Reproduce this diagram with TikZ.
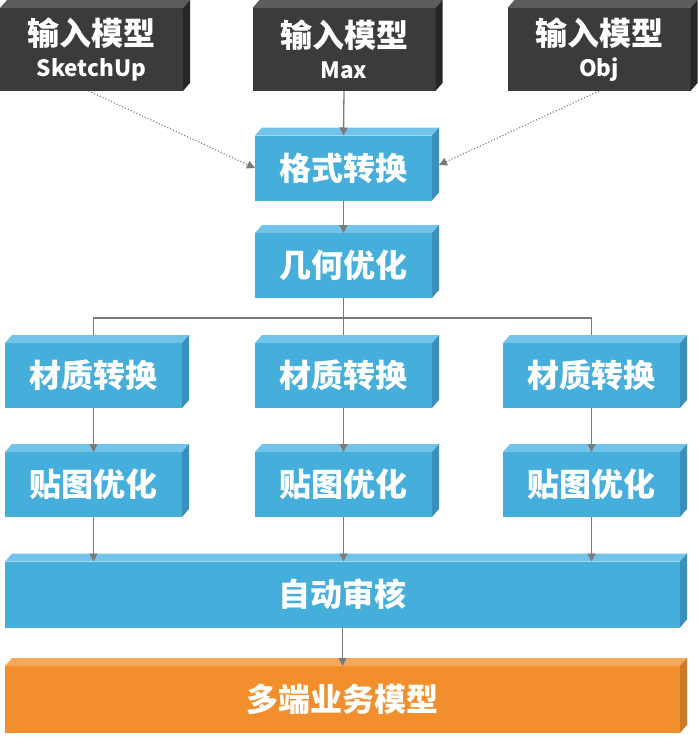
\documentclass[tikz,border=0pt]{standalone}
\usepackage{fontspec}
\newfontfamily\cjk{Noto Sans CJK SC}
\usetikzlibrary{arrows.meta,backgrounds}
\definecolor{blkF}{HTML}{3B3B3B}\definecolor{blkT}{HTML}{5C5C5C}\definecolor{blkS}{HTML}{262626}
\definecolor{bluF}{HTML}{45AEDB}\definecolor{bluT}{HTML}{72C3EA}\definecolor{bluS}{HTML}{3A8FBC}
\definecolor{oraF}{HTML}{F28F2C}\definecolor{oraT}{HTML}{F6A75C}\definecolor{oraS}{HTML}{CB7A27}
\definecolor{conn}{HTML}{7A7A7A}
\newcommand\cubefaces[2]{%
  \fill[#2T] (#1.north west) -- ++(7,-8) -- ([shift={(7pt,8pt)}]#1.north east) -- (#1.north east) -- cycle;
  \fill[#2S] (#1.north east) -- ++(7,-8) -- ([shift={(7pt,8pt)}]#1.south east) -- (#1.south east) -- cycle;}
\tikzset{
  cube/.style={inner sep=0pt, outer sep=0pt, text=white, align=center,
     font=\cjk\bfseries\fontsize{32}{36}\selectfont},
  blkbox/.style={cube, fill=blkF, minimum width=183pt, minimum height=83pt},
  blubox/.style={cube, fill=bluF, minimum width=177pt, minimum height=65pt},
  widebox/.style={cube, minimum width=675pt, minimum height=66pt},
  conline/.style={draw=conn, line width=1.3pt},
  conarrow/.style={conline, -{Triangle[length=8pt,width=8pt]}},
  dotarrow/.style={draw=conn, line width=1.1pt, dotted, -{Triangle[length=8pt,width=8pt]}}
}
\begin{document}
\begin{tikzpicture}[x=1pt,y=-1pt]
\useasboundingbox (0,0) rectangle (697,737);
% top input boxes
\node[blkbox] (in1) at (91.5,49.5) {输入模型\\[-5pt]{\fontsize{22.5}{26}\selectfont SketchUp}};
\node[blkbox] (in2) at (344,49.5) {输入模型\\[-5pt]{\fontsize{22.5}{26}\selectfont Max}};
\node[blkbox] (in3) at (599,49.5) {输入模型\\[-5pt]{\fontsize{22.5}{26}\selectfont Obj}};
\cubefaces{in1}{blk}\cubefaces{in2}{blk}\cubefaces{in3}{blk}
% central chain
\node[blubox] (fmt) at (343.5,168) {格式转换};
\node[blubox] (geo) at (343.5,265.5) {几何优化};
\node[blubox] (mat1) at (93.5,375.5) {材质转换};
\node[blubox] (mat2) at (343.5,375.5) {材质转换};
\node[blubox] (mat3) at (591.5,375.5) {材质转换};
\node[blubox] (tex1) at (93.5,484.5) {贴图优化};
\node[blubox] (tex2) at (343.5,484.5) {贴图优化};
\node[blubox] (tex3) at (591.5,484.5) {贴图优化};
\node[widebox, fill=bluF] (aud) at (342.5,594.5) {自动审核};
\node[widebox, fill=oraF, minimum height=67pt] (out) at (342.5,699.5) {多端业务模型};
\foreach \n in {fmt,geo,mat1,mat2,mat3,tex1,tex2,tex3,aud}{\cubefaces{\n}{blu}}
\cubefaces{out}{ora}
% connectors
\coordinate (br) at (343.5,318);
\draw[dotarrow] (in1.south) ++(-3,0) -- (fmt.west);
\draw[dotarrow] (in3.south) -- ([shift={(7pt,3pt)}]fmt.east);
\draw[conarrow] (in2.south) -- (fmt.north);
\draw[conarrow] (fmt.south) -- (geo.north);
\draw[conline] (geo.south) -- (br);
\draw[conline] ([yshift=8pt]mat1.north) |- (br) -| ([yshift=8pt]mat3.north);
\draw[conline] (br) -- ([yshift=8pt]mat2.north);
\foreach \i in {1,2,3}{
  \draw[conarrow] (mat\i.south) -- (tex\i.north);
  \draw[conarrow] (tex\i.south) -- (tex\i.south |- aud.north);
}
\draw[conarrow] (aud.south) -- (out.north);
\end{tikzpicture}
\end{document}
